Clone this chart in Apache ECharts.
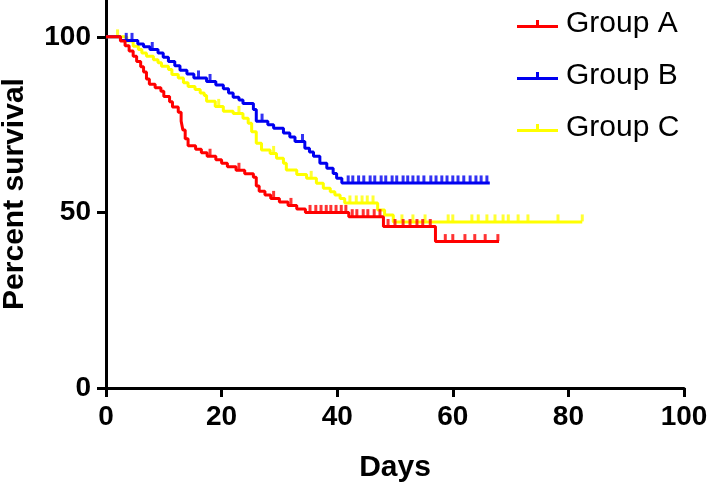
<!DOCTYPE html>
<html>
<head>
<meta charset="utf-8">
<script src="https://cdn.jsdelivr.net/npm/echarts@6/dist/echarts.min.js"></script>
<style>html,body{margin:0;padding:0;background:#fff;}#c{width:709px;height:484px;}</style>
</head>
<body>
<div id="c"></div>
<script>
// ---- data ----
var groupNames = ['Group A', 'Group B', 'Group C'];
var xTicks = [0, 20, 40, 60, 80, 100];
var yTicks = [0, 50, 100];

// Group A: step points (day, percent survival)
var aDays = [0, 2.5, 3.3, 4, 4.7, 5.3, 6, 6.5, 7, 7.5, 8.5, 9.5, 10, 11, 11.5, 12.5, 13, 13.3, 13.7, 14.2, 15.5, 16.5, 17.5, 19, 20, 21, 22.5, 24, 25.5, 26, 26.5, 27.5, 28.5, 30, 31.5, 33, 34.5, 42, 48, 57, 68];
var aSurv = [100, 98.8, 97.5, 96, 94.5, 93, 91.5, 90, 88, 86.5, 85.5, 84.5, 83, 81.5, 80, 78.5, 76, 73.5, 71, 69, 68, 67, 66, 65, 64, 63, 62, 61, 60, 57.5, 56, 55, 54, 53, 52, 51, 50, 48.8, 46, 41.7, 41.7];
var aCensor = [18, 23, 29, 32, 35.3, 36.3, 37.2, 38.1, 38.9, 39.8, 40.7, 41.5, 42.6, 43.4, 44.5, 45.3, 46.4, 47.4, 48.8, 50, 51.4, 52.6, 53.8, 54.8, 56.1, 58.7, 60, 62.1, 63.8, 65.6, 67.8];

// Group B
var bDays = [0, 2.5, 5.5, 6.5, 7.6, 9, 9.9, 10.8, 11.9, 12.8, 14, 15.2, 17.4, 19, 20.3, 21.2, 22, 23, 23.7, 25.5, 26, 28, 29, 30.7, 31.8, 32.7, 34.4, 35.2, 35.9, 37, 38.2, 39.3, 39.9, 40.8, 66.4];
var bSurv = [100, 99, 98, 97.2, 96.4, 95.4, 94.2, 93, 91.8, 90.5, 89.4, 88.3, 87.3, 86.3, 85.2, 84, 82.8, 82, 81, 79.3, 76, 75, 74, 72.6, 71.5, 70.2, 68.3, 67.2, 66, 64, 62.6, 61.1, 59.7, 58.4, 58.4];
var bCensor = [3.5, 4.5, 8, 16, 18, 27, 34, 41.9, 42.7, 43.7, 44.6, 45.7, 46.5, 47.6, 48.4, 49.5, 50.3, 51.4, 52.2, 53.1, 54, 55, 56.2, 57.1, 58.1, 59, 60, 60.9, 61.9, 63, 64, 64.9, 65.9];

// Group C
var cDays = [0, 3.6, 4.7, 5.6, 6.2, 7, 8.2, 9, 9.6, 10.8, 11.4, 12.5, 13.4, 14.2, 15.4, 16.3, 17, 17.4, 18.9, 20.3, 22, 23.7, 24.6, 25.2, 26, 26.9, 28.4, 29.5, 30.7, 31.2, 33, 34.7, 36.4, 37.6, 38.8, 39.6, 40.5, 41.3, 47, 48.2, 49.7, 82.4];
var cSurv = [100, 98.8, 97.3, 96.4, 95.4, 94.5, 93.5, 92.6, 91.6, 90.7, 89.3, 88.3, 86.9, 85.9, 85, 84, 83.3, 81.7, 80.2, 78.8, 78.2, 76.8, 75.4, 73, 69.7, 67.8, 66.8, 65.4, 64, 62.1, 60.8, 59.7, 58.3, 56.9, 55.9, 55, 54, 52.7, 50.7, 49.3, 47.3, 47.3];
var cCensor = [2, 19.5, 23, 29, 35.5, 42.2, 43.3, 44.3, 45.2, 46.2, 51.2, 53.1, 55.2, 59.2, 60, 63.3, 64.4, 65.9, 67.3, 68.7, 69.6, 71.3, 73, 78.2, 82.4];

var colors = ['#FF0000', '#0000F0', '#FFFF00'];

function pairs(d, s) { return d.map(function (v, i) { return [v, s[i]]; }); }
function survAt(d, s, t) {
  var v = s[0];
  for (var i = 0; i < d.length; i++) { if (d[i] <= t) v = s[i]; }
  return v;
}
function censorPts(c, d, s) { return c.map(function (t) { return [t, survAt(d, s, t)]; }); }

var sets = [
  { d: aDays, s: aSurv, c: aCensor },
  { d: bDays, s: bSurv, c: bCensor },
  { d: cDays, s: cSurv, c: cCensor }
];

var series = [];
// draw C, B first, A last (on top)
[2, 1, 0].forEach(function (k) {
  var st = sets[k];
  series.push({
    name: groupNames[k], type: 'line', step: 'end', data: pairs(st.d, st.s),
    showSymbol: false, symbol: 'none', lineStyle: { color: colors[k], width: 3 },
    itemStyle: { color: colors[k] }, z: 2 + (2 - k), silent: true
  });
  series.push({
    name: groupNames[k], type: 'scatter', data: censorPts(st.c, st.d, st.s),
    symbol: 'rect', symbolSize: [3, 7], symbolOffset: [0, -4],
    itemStyle: { color: colors[k] }, z: 2 + (2 - k), silent: true
  });
});

var legendIcon = 'path://M0,5h41v3h-41zM19,0h3v5h-3z';
var chart = echarts.init(document.getElementById('c'), null, { renderer: 'canvas' });
chart.setOption({
  animation: false,
  backgroundColor: '#fff',
  grid: { left: 106, right: 25, top: 0, bottom: 96, containLabel: false, outerBoundsMode: 'none' },
  legend: {
    data: groupNames.map(function (n, i) { return { name: n, icon: legendIcon, itemStyle: { color: colors[i] } }; }),
    orient: 'vertical', left: 512, top: 4,
    itemWidth: 41, itemHeight: 8, itemGap: 22,
    selectedMode: false,
    textStyle: { fontFamily: 'Liberation Sans', fontSize: 30, color: '#000', lineHeight: 30, padding: [0, 0, 0, 3] }
  },
  xAxis: {
    type: 'value', min: 0, max: 100, interval: 20,
    name: 'Days', nameLocation: 'middle', nameGap: 65,
    nameTextStyle: { fontFamily: 'Liberation Sans', fontWeight: 'bold', fontSize: 30, color: '#000' },
    axisLine: { show: true, onZero: false, lineStyle: { color: '#000', width: 3 } },
    axisTick: { show: true, length: 9, lineStyle: { color: '#000', width: 3 } },
    axisLabel: { fontFamily: 'Liberation Sans', fontWeight: 'bold', fontSize: 28, color: '#000', margin: 15,
      formatter: function (v) { return xTicks.indexOf(v) >= 0 ? String(v) : ''; } },
    splitLine: { show: false }
  },
  yAxis: {
    type: 'value', min: 0, max: 110.5,
    name: 'Percent survival', nameLocation: 'middle', nameGap: 76, nameRotate: 90,
    nameTextStyle: { fontFamily: 'Liberation Sans', fontWeight: 'bold', fontSize: 30, color: '#000' },
    axisLine: { show: true, onZero: false, lineStyle: { color: '#000', width: 3 } },
    axisTick: { show: true, length: 9, customValues: yTicks, lineStyle: { color: '#000', width: 3 } },
    axisLabel: { fontFamily: 'Liberation Sans', fontWeight: 'bold', fontSize: 28, color: '#000', margin: 15, customValues: yTicks },
    splitLine: { show: false }
  },
  series: series
});
</script>
</body>
</html>
